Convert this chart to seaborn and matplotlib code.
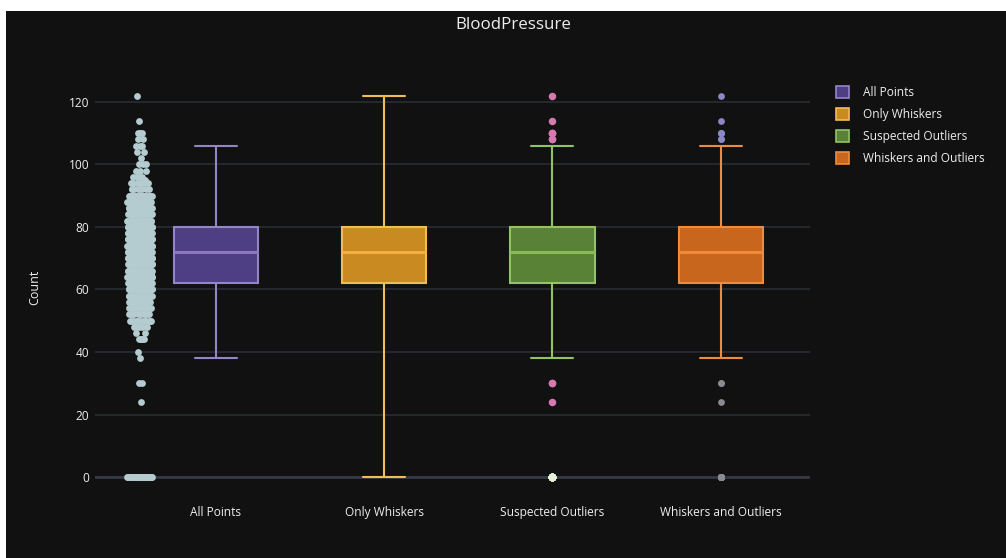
import numpy as np
import pandas as pd
import matplotlib
matplotlib.use("Agg")
import matplotlib.pyplot as plt
from matplotlib.patches import Patch, Rectangle
import seaborn as sns

# Diastolic blood pressure readings and how many records carry each reading
bp_values = [0, 24, 30, 38, 40, 44, 46, 48, 50, 52, 54, 55, 56, 58, 60, 61, 62,
             64, 65, 66, 68, 70, 72, 74, 75, 76, 78, 80, 82, 84, 85, 86, 88, 90,
             92, 94, 95, 96, 98, 100, 102, 104, 106, 108, 110, 114, 122]
bp_counts = [35, 1, 2, 1, 1, 4, 2, 5, 13, 11, 11, 2, 12, 21, 37, 1, 34,
             43, 7, 30, 45, 57, 44, 52, 8, 39, 45, 40, 30, 23, 6, 21, 25, 22,
             8, 6, 1, 4, 3, 3, 1, 2, 3, 2, 3, 1, 1]

categories = ["All Points", "Only Whiskers", "Suspected Outliers", "Whiskers and Outliers"]
y_ticks = [0, 20, 40, 60, 80, 100, 120]

fill_colors = ["#4e3e84", "#c98a22", "#5a8236", "#c8661e"]
line_colors = ["#9484c8", "#f0bc56", "#92c464", "#ec8c3c"]
median_colors = ["#8a78c0", "#f2b042", "#86bc58", "#ee8a38"]

BG = "#111111"
TEXT = "#eeeeee"

readings = np.repeat(np.array(bp_values, dtype=float), bp_counts)
df = pd.DataFrame({
    "trace": np.repeat(categories, len(readings)),
    "value": np.tile(readings, len(categories)),
})

sns.set_theme(style="dark")
plt.rcParams["font.family"] = ["Open Sans", "DejaVu Sans"]

fig = plt.figure(figsize=(10.06, 5.58), dpi=100, facecolor="white")
fig.add_artist(Rectangle((6 / 1006, 0), 1 - 6 / 1006, 1 - 11 / 558,
                         transform=fig.transFigure, facecolor=BG,
                         edgecolor="none", zorder=-10))
ax = fig.add_axes([95 / 1006, 1 - 498 / 558, (810 - 95) / 1006, (498 - 75) / 558])
ax.set_facecolor(BG)

box_width = 0.5
for i, cat in enumerate(categories):
    sub = df[df["trace"] == cat]
    whis = (0, 100) if cat == "Only Whiskers" else 1.5
    sns.boxplot(data=sub, x="trace", y="value", order=categories,
                color=fill_colors[i], linecolor=line_colors[i], saturation=1,
                width=box_width, whis=whis, showfliers=False, linewidth=1.5,
                medianprops=dict(color=median_colors[i], linewidth=2.2),
                ax=ax, zorder=3)

# Whisker fences shared by the outlier traces
q1, q3 = np.percentile(readings, [25, 75])
iqr = q3 - q1
low_fence, high_fence = q1 - 1.5 * iqr, q3 + 1.5 * iqr
outliers = readings[(readings < low_fence) | (readings > high_fence)]
extreme = (outliers < 4 * q1 - 3 * q3) | (outliers > 4 * q3 - 3 * q1)

marker_px = 7.5 * 0.72
sns.stripplot(x=["Suspected Outliers"] * int((~extreme).sum()), y=outliers[~extreme],
              order=categories, jitter=False, color="#d878b0", size=marker_px,
              linewidth=0, ax=ax, zorder=4)
sns.stripplot(x=["Suspected Outliers"] * int(extreme.sum()), y=outliers[extreme],
              order=categories, jitter=False, color="#e4f0d8", size=marker_px,
              linewidth=0, ax=ax, zorder=4)
high_out = outliers > 107
sns.stripplot(x=["Whiskers and Outliers"] * int((~high_out).sum()), y=outliers[~high_out],
              order=categories, jitter=False, color="#8a8a92", size=marker_px * 0.9,
              linewidth=0, ax=ax, zorder=4)
sns.stripplot(x=["Whiskers and Outliers"] * int(high_out.sum()), y=outliers[high_out],
              order=categories, jitter=False, color="#8c88c8", size=marker_px * 0.9,
              linewidth=0, ax=ax, zorder=4)

# All-points strip beside the first box, spread more where readings are dense
pts = np.sort(readings)
n = len(pts)
min_spread = abs(iqr) * 0.01
factors = np.empty(n)
for k in range(n):
    i0, i1 = max(0, k - 5), min(n - 1, k + 5)
    f = np.sqrt(min_spread * (i1 - i0) / (pts[i1] - pts[i0] + min_spread))
    factors[k] = min(abs(f), 1.0)
spread = 0.3 * 2 / factors.max()
phase = (np.arange(n) * 0.6180339887) % 1.0 - 0.5
half_box = box_width / 2
strip_x = 0 + half_box * (-1.8 + spread * factors * phase)
sns.scatterplot(x=strip_x, y=pts, color="#b4ccd0", s=24, linewidth=0,
                ax=ax, zorder=4, legend=False)

# Axes styling
ax.set_xlim(-0.717, 3.53)
ax.set_ylim(-6.7, 128.6)
ax.set_yticks(y_ticks)
ax.set_yticklabels([str(t) for t in y_ticks])
ax.set_xticks(range(len(categories)))
ax.set_xticklabels(categories)
ax.grid(axis="y", color="#2a2f36", linewidth=1.1, zorder=0)
ax.grid(axis="x", visible=False)
ax.axhline(0, color="#343a42", linewidth=2, zorder=1)
ax.set_axisbelow(True)
for s in ax.spines.values():
    s.set_visible(False)
ax.tick_params(axis="both", length=0, colors=TEXT, labelsize=8.6)
ax.tick_params(axis="y", pad=4)
ax.tick_params(axis="x", pad=6)
ax.set_xlabel("")
ax.set_ylabel("")

fig.text(35 / 1006, 1 - 287 / 558, "Count", rotation=90, ha="center", va="center",
         color=TEXT, fontsize=9)
fig.text(513 / 1006, 1 - 25 / 558, "BloodPressure", ha="center", va="center",
         color=TEXT, fontsize=12.2)

handles = [Patch(facecolor=fill_colors[i], edgecolor=line_colors[i], linewidth=1.2,
                 label=cat) for i, cat in enumerate(categories)]
ax.legend(handles=handles, loc="upper left", bbox_to_anchor=(836 / 1006, 1 - 86 / 558),
          bbox_transform=fig.transFigure, frameon=False, fontsize=8.6,
          labelcolor=TEXT, handlelength=1.1, handleheight=1.1, handletextpad=1.2,
          labelspacing=0.75, borderpad=0, borderaxespad=0)

fig.savefig("out.png", dpi=100, facecolor=fig.get_facecolor())
